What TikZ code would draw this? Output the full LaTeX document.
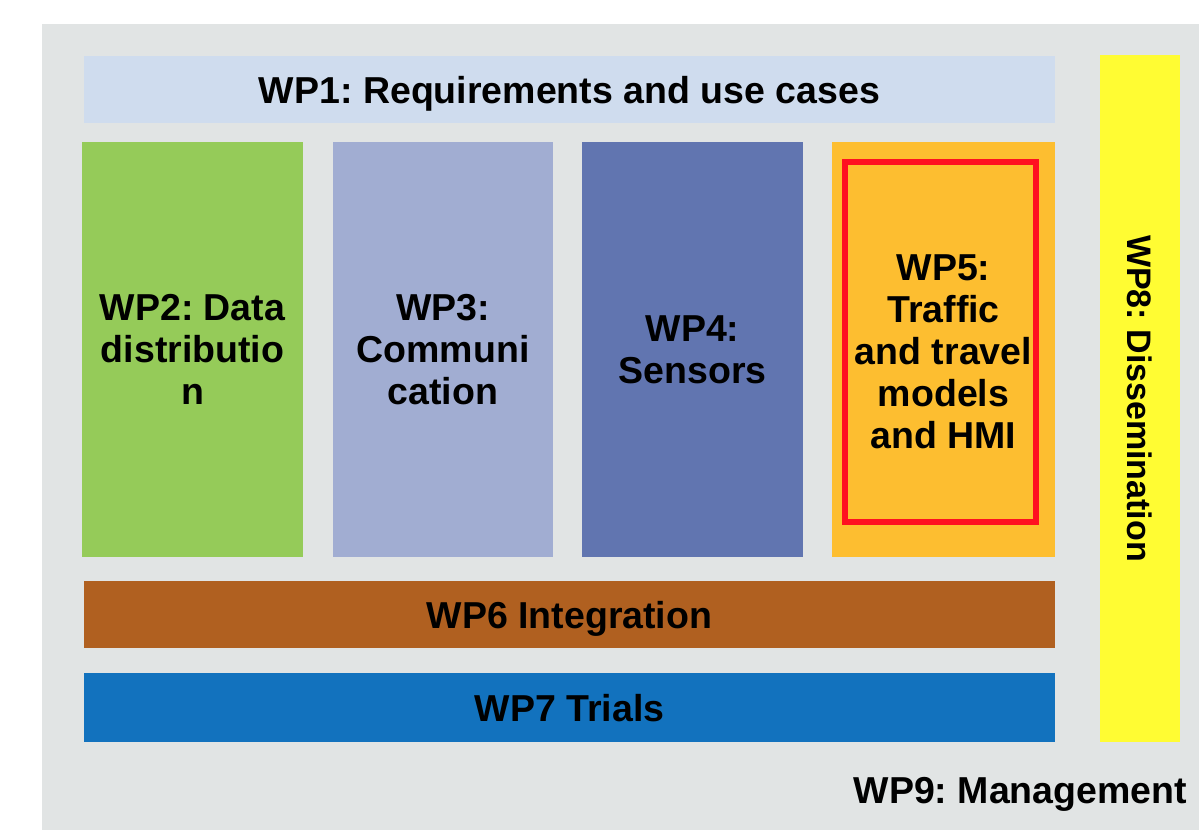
\documentclass[tikz,border=0pt]{standalone}
\usepackage{fontspec}
\setmainfont{Liberation Sans}
\frenchspacing
\definecolor{panelgray}{HTML}{E1E4E4}
\definecolor{wpreq}{HTML}{CFDCEE}
\definecolor{wpdata}{HTML}{95CB59}
\definecolor{wpcomm}{HTML}{A1ADD2}
\definecolor{wpsens}{HTML}{6175B0}
\definecolor{wptraf}{HTML}{FDBE30}
\definecolor{wphigh}{HTML}{FF1020}
\definecolor{wpint}{HTML}{B06020}
\definecolor{wptrial}{HTML}{1272BE}
\definecolor{wpdiss}{HTML}{FFFC33}
\newcommand\wpfont{\fontsize{37.5}{42}\selectfont\bfseries}
\tikzset{
  wpbox/.style={rectangle, inner sep=0pt, outer sep=0pt, align=center,
    font=\wpfont, text=black},
  colbox/.style={wpbox, minimum width=221pt, minimum height=415pt},
  rowbox/.style={wpbox, minimum width=971pt, text height=27pt, text depth=0pt},
}
\begin{document}
\begin{tikzpicture}[x=1pt,y=-1pt]
\useasboundingbox (0,0) rectangle (1199,830);
% management frame
\fill[panelgray] (42,24) rectangle (1199,830);

% top row
\node[rowbox, fill=wpreq, minimum height=67pt] (wp1) at (569.5,89.5)
  {WP1: Requirements and use cases};

% work package columns
\node[colbox, fill=wpdata] (wp2) at (192.5,349.5) {WP2: Data\\distributio\\n};
\node[colbox, fill=wpcomm, minimum width=220pt] (wp3) at (443,349.5) {WP3:\\Communi\\cation};
\node[colbox, fill=wpsens] (wp4) at (692.5,349.5) {WP4:\\Sensors};
\node[colbox, fill=wptraf, minimum width=223pt] (wp5) at (943.5,349.5) {};
\draw[wphigh, line width=6pt] (845,162) rectangle (1036,522);
\node[wpbox] (wp5text) at (943.5,351.5) {WP5:\\Traffic\\and travel\\models\\and HMI};

% bottom rows
\node[rowbox, fill=wpint, minimum height=67pt] (wp6) at (569.5,614.5) {WP6 Integration};
\node[rowbox, fill=wptrial, minimum height=69pt] (wp7) at (569.5,707.5) {WP7 Trials};

% dissemination bar
\node[wpbox, fill=wpdiss, minimum width=80pt, minimum height=687pt] (wp8) at (1140,398.5) {};
\node[wpbox, rotate=-90, font=\fontsize{34}{40}\selectfont\bfseries] (wp8text) at (1140,398.5)
  {WP8: Dissemination};

% management label
\node[wpbox, anchor=east, text height=27pt, text depth=0pt] (wp9) at (1187,790) {WP9: Management};
\end{tikzpicture}
\end{document}
